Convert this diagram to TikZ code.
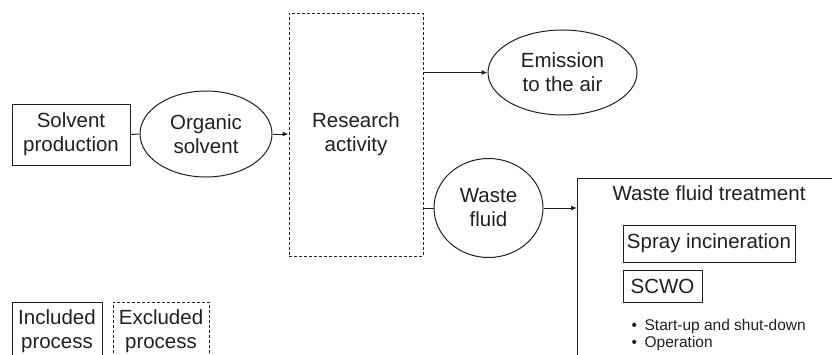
\documentclass[tikz,border=0pt]{standalone}
\usepackage{fontspec}
\setmainfont{Liberation Sans}
\usetikzlibrary{shapes.geometric,arrows.meta}
\definecolor{ink}{HTML}{231F20}
\begin{document}
\begin{tikzpicture}[x=1pt,y=-1pt,
  every node/.style={text=ink, inner sep=0pt, align=center,
    font=\fontsize{20.5}{24}\selectfont},
  box/.style={draw=ink, line width=1pt, rectangle},
  dbox/.style={draw=ink, line width=0.9pt, rectangle, dash pattern=on 3pt off 2pt},
  oval/.style={draw=ink, line width=1pt, ellipse},
  conn/.style={draw=ink, line width=1pt},
  arr/.style={conn, -{Latex[length=6pt,width=5pt]}},
  small/.style={font=\fontsize{15.5}{17}\selectfont, align=left}
]
\useasboundingbox (0,0) rectangle (832,354);
\fill[white] (0,0) rectangle (832,354);

\node[box, minimum width=118, minimum height=61] (sp) at (71,134.5) {Solvent\\production};
\node[oval, minimum width=132, minimum height=86] (os) at (206,134) {Organic\\solvent};
\node[dbox, minimum width=134, minimum height=243] (ra) at (356,134.5) {Research\\activity};
\node[oval, minimum width=149, minimum height=85] (em) at (562.5,72.5) {Emission\\to the air};
\node[oval, minimum width=109, minimum height=99] (wf) at (488.5,208) {Waste\\fluid};

\begin{scope}
\clip (0,0) rectangle (832,354);
\node[box, anchor=north west, minimum width=280, minimum height=200] (wft) at (577,178) {};
\node[box, anchor=north west, minimum width=90, minimum height=70] (inc) at (12,302) {};
\node[dbox, anchor=north west, minimum width=96, minimum height=70] (exc) at (113,302) {};
\end{scope}

\node (wftt) at (709,193) {Waste fluid treatment};
\node[box, minimum width=172, minimum height=37] (spr) at (709,243.5) {Spray incineration};
\node[box, minimum width=79, minimum height=32] (scwo) at (662.5,286) {SCWO};
\node[small, anchor=north west] (bul) at (631.5,319) {•\hspace{7.5pt}Start-up and shut-down\\•\hspace{7.5pt}Operation};

\node (inct) at (57,331) {Included\\process};
\node (exct) at (161,331) {Excluded\\process};

\draw[conn] (sp.east) -- (os.west);
\draw[arr] (os.east) -- (os.east -| ra.west);
\draw[arr] (em.west -| ra.east) -- (em.west);
\draw[conn] (wf.west -| ra.east) -- (wf.west);
\draw[arr] (wf.east) -- (wf.east -| wft.west);
\end{tikzpicture}
\end{document}
